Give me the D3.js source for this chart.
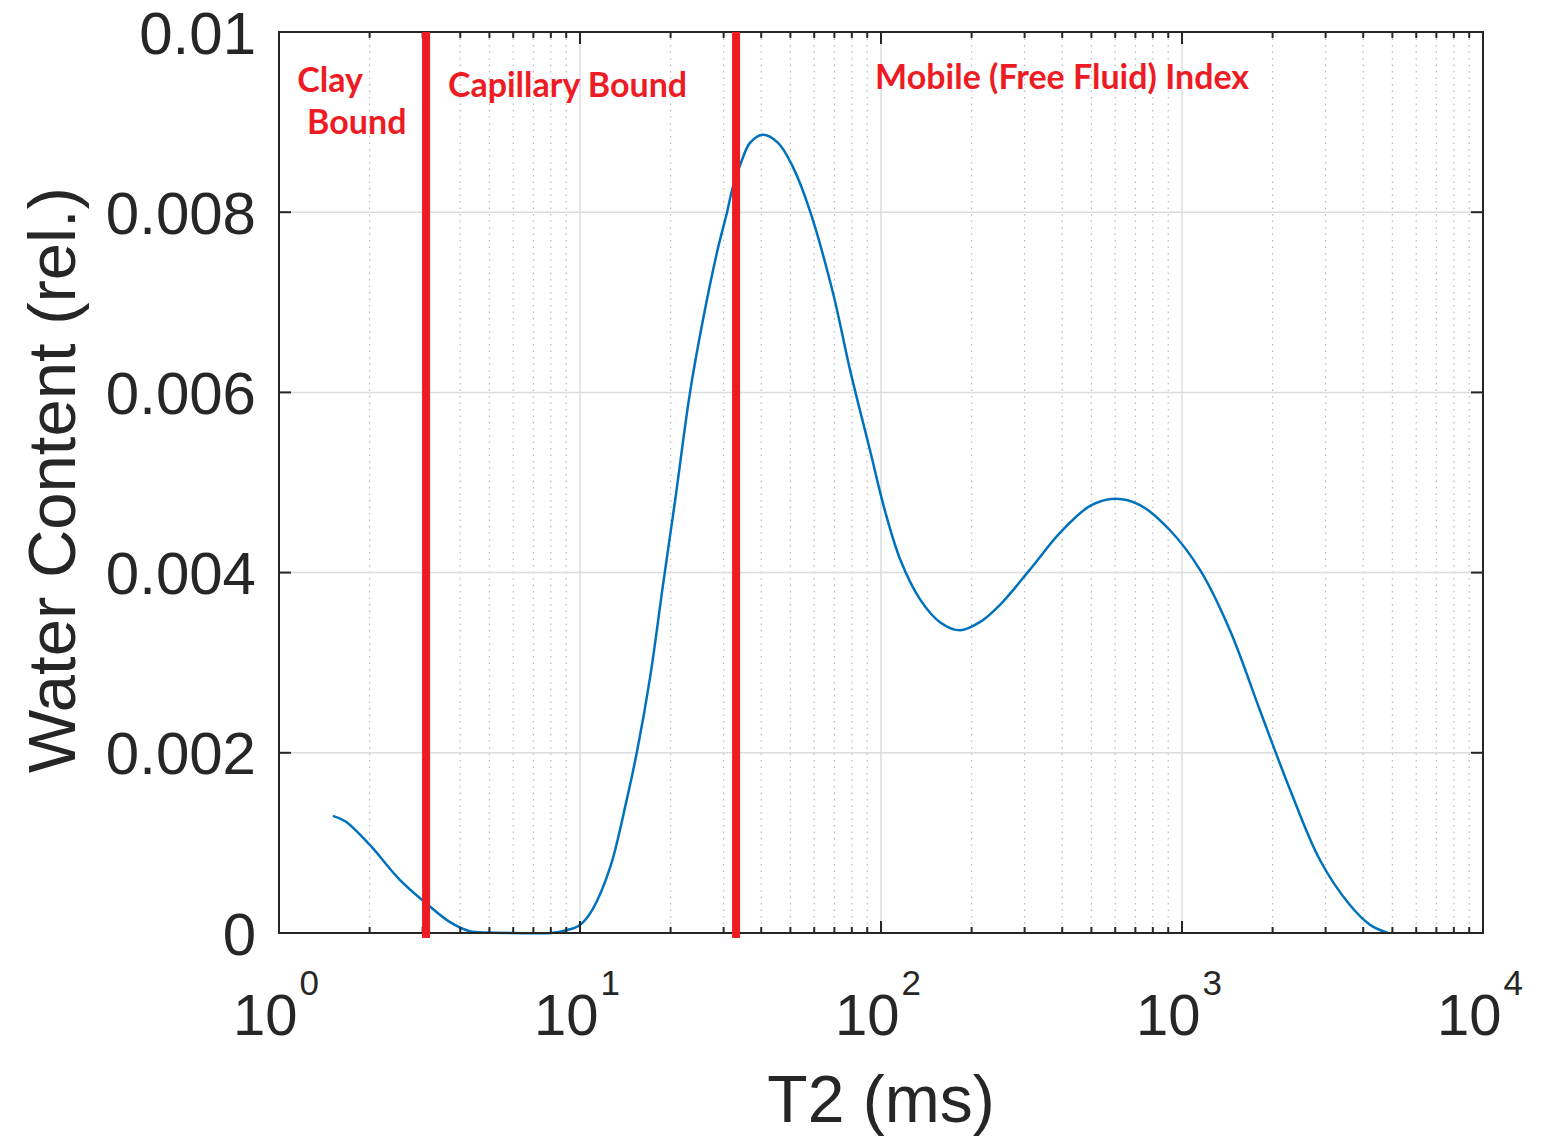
<!DOCTYPE html>
<html><head><meta charset="utf-8">
<script src="https://cdn.jsdelivr.net/npm/d3@7"></script>
<style>body{margin:0;background:#fff}svg{display:block}</style>
</head><body>
<script>
// Data
const t2 = [1.51,1.66,2.0,2.52,3.08,3.7,4.3,5.0,6,8,9,10,11,12.6,14.3,15.5,17.1,18.9,20.7,23.2,25.6,28.5,30.8,32.2,34.8,36.7,40.5,45.5,51,58,69.3,78.9,91.9,103,116,135,157,183,213,248,312,393,495,599,725,912,1148,1443,1816,2286,2872,3614,4217,4832];
const water = [0.00130,0.00124,0.00098,0.00059,0.00033,0.00012,0.00002,0.000005,0.0,0.0,0.00003,0.00009,0.00026,0.00073,0.00148,0.00203,0.00284,0.00388,0.0048,0.0060,0.0068,0.00755,0.0080,0.00828,0.00861,0.00877,0.00886,0.00877,0.0085,0.00802,0.0071,0.00625,0.00536,0.00469,0.00414,0.0037,0.00345,0.00336,0.00345,0.00364,0.00403,0.00444,0.00474,0.00482,0.00475,0.00447,0.00403,0.00336,0.00247,0.00159,0.00081,0.00031,0.00009,0.0];
const cutoffs = [3.08, 33];
const xTickExps = [0,1,2,3,4];
const yTicks = [0,0.002,0.004,0.006,0.008,0.01];
const yTickLabels = ["0","0.002","0.004","0.006","0.008","0.01"];
const zoneLabels = [
  {text:"Clay", x:1.15, y:0.00933},
  {text:"Bound", x:1.24, y:0.00887},
  {text:"Capillary Bound", x:3.64, y:0.00928},
  {text:"Mobile (Free Fluid) Index", x:95.6, y:0.00937}
];

const W=1550,H=1137;
const L=279,R=1483,T=32,B=933;
const svg=d3.select("body").append("svg").attr("width",W).attr("height",H);
const x=d3.scaleLog().domain([1,1e4]).range([L,R]);
const y=d3.scaleLinear().domain([0,0.01]).range([B,T]);
const axisColor="#262626";

// minor grid (dotted)
const minor=[];
for(let e=0;e<4;e++) for(let k=2;k<=9;k++) minor.push(k*Math.pow(10,e));
svg.append("g").selectAll("line").data(minor).join("line")
  .attr("x1",d=>x(d)).attr("x2",d=>x(d)).attr("y1",T).attr("y2",B)
  .attr("stroke","#b8b8b8").attr("stroke-width",1.2).attr("stroke-dasharray","1.5,5");
// major grid
svg.append("g").selectAll("line").data(xTickExps.slice(1,-1)).join("line")
  .attr("x1",d=>x(Math.pow(10,d))).attr("x2",d=>x(Math.pow(10,d))).attr("y1",T).attr("y2",B)
  .attr("stroke","#dcdcdc").attr("stroke-width",1.5);
svg.append("g").selectAll("line").data(yTicks.slice(1,-1)).join("line")
  .attr("x1",L).attr("x2",R).attr("y1",d=>y(d)).attr("y2",d=>y(d))
  .attr("stroke","#dcdcdc").attr("stroke-width",1.5);

// curve
const line=d3.line().x((d,i)=>x(t2[i])).y(d=>y(d)).curve(d3.curveCatmullRom.alpha(0.5));
svg.append("path").datum(water).attr("d",line).attr("fill","none")
  .attr("stroke","#0072BD").attr("stroke-width",2.5);

// axes box and ticks
const g=svg.append("g").attr("stroke",axisColor).attr("stroke-width",2);
g.append("rect").attr("x",L).attr("y",T).attr("width",R-L).attr("height",B-T).attr("fill","none");
xTickExps.forEach(e=>{const px=x(Math.pow(10,e));
  g.append("line").attr("x1",px).attr("x2",px).attr("y1",B).attr("y2",B-12);
  g.append("line").attr("x1",px).attr("x2",px).attr("y1",T).attr("y2",T+12);});
minor.forEach(d=>{const px=x(d);
  g.append("line").attr("x1",px).attr("x2",px).attr("y1",B).attr("y2",B-6);
  g.append("line").attr("x1",px).attr("x2",px).attr("y1",T).attr("y2",T+6);});
yTicks.forEach(d=>{const py=y(d);
  g.append("line").attr("x1",L).attr("x2",L+12).attr("y1",py).attr("y2",py);
  g.append("line").attr("x1",R).attr("x2",R-12).attr("y1",py).attr("y2",py);});

// red cutoffs
svg.append("g").selectAll("line").data(cutoffs).join("line")
  .attr("x1",d=>x(d)).attr("x2",d=>x(d)).attr("y1",T).attr("y2",B+5)
  .attr("stroke","#ED1C24").attr("stroke-width",8);

// tick labels
const font="'Liberation Sans', Arial, sans-serif";
svg.append("g").selectAll("text").data(yTicks).join("text")
  .attr("x",L-23).attr("y",d=>y(d)).attr("dy","0.36em").attr("text-anchor","end")
  .attr("font-family",font).attr("font-size",60).attr("fill",axisColor)
  .text((d,i)=>yTickLabels[i]);
const xl=svg.append("g").selectAll("text").data(xTickExps).join("text")
  .attr("x",d=>x(Math.pow(10,d))-3).attr("y",1035).attr("text-anchor","middle")
  .attr("font-family",font).attr("font-size",58).attr("fill",axisColor);
xl.append("tspan").text("10");
xl.append("tspan").attr("dx",2).attr("dy",-40).attr("font-size",35).text(d=>d);

// axis titles
svg.append("text").attr("x",x(100)).attr("y",1122).attr("text-anchor","middle")
  .attr("font-family",font).attr("font-size",66).attr("fill",axisColor).text("T2 (ms)");
svg.append("text").attr("transform","translate(75,480) rotate(-90)").attr("text-anchor","middle")
  .attr("font-family",font).attr("font-size",67).attr("fill",axisColor).text("Water Content (rel.)");

// zone labels
svg.append("g").selectAll("text").data(zoneLabels).join("text")
  .attr("x",d=>x(d.x)).attr("y",d=>y(d.y))
  .attr("font-family","Lato, 'Open Sans', sans-serif").attr("font-weight","bold")
  .attr("font-size",34).attr("fill","#ED1C24").text(d=>d.text);
</script>
</body></html>
